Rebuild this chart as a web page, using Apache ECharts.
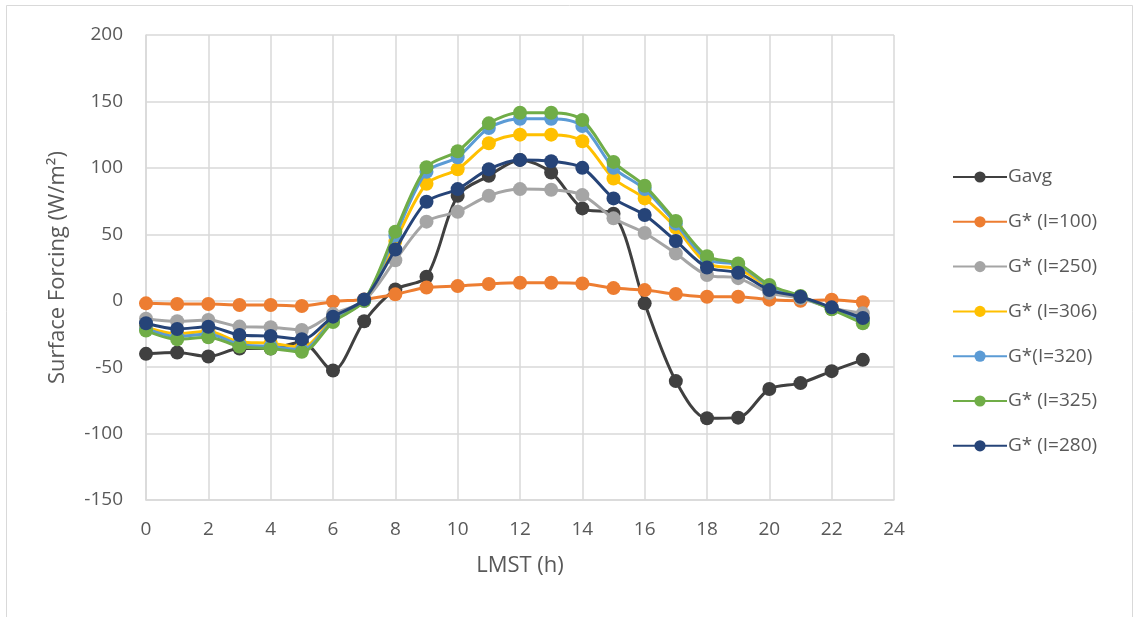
<!DOCTYPE html>
<html>
<head>
<meta charset="utf-8">
<script src="https://cdn.jsdelivr.net/npm/echarts@6/dist/echarts.min.js"></script>
<style>html,body{margin:0;padding:0;background:#fff;}#c{width:1134px;height:617px;}</style>
</head>
<body>
<div id="c"></div>
<script>
const hours = [0,1,2,3,4,5,6,7,8,9,10,11,12,13,14,15,16,17,18,19,20,21,22,23];
const seriesNames = ['Gavg','G* (I=100)','G* (I=250)','G* (I=306)','G*(I=320)','G* (I=325)','G* (I=280)'];
const colors = ['#404040','#ED7D31','#A5A5A5','#FFC000','#5B9BD5','#70AD47','#264478'];
const gavg  = [-40,-39,-42,-36,-36,-31,-52.5,-15.5,8.5,18,79,94,106,96.5,69.5,65.5,-2,-60.5,-88.5,-88,-66.5,-62,-53,-44.5];
const g100  = [-2,-2.5,-2.5,-3.2,-3.2,-4,-0.7,1,4.8,10,11,12.6,13.5,13.5,13,9.5,8,5,3,3,0.8,0,0.8,-1.2];
const g250  = [-13.5,-15.5,-14.5,-19.5,-20,-22,-10,0,30.5,59.5,67,79,84,83.5,79.5,62,51,35.5,19.3,17,6,1.8,-5.5,-9.5];
const g306  = [-20,-25,-23,-31,-32,-35,-14,0,45,88,99,118.5,125,125,120,92,77,55,28,24,10.5,3,-6,-14];
const g320  = [-21,-27,-25,-33,-34.5,-37,-15,0,49,97,108,130,137,137,131.5,100,84,58,31,27,11,3,-6,-15];
const g325  = [-22.5,-29,-27.5,-34.5,-36,-38.5,-16,0,52,100.5,112.5,133.5,141.5,141.5,136,104.5,86.5,60,33.5,28,11.8,3.5,-6.5,-17];
const g280  = [-17,-21.3,-19.6,-25.8,-26.6,-29,-12,1,38.5,74.5,84,99,106,105,100,77,64.5,45,25,21,8,3,-5,-13];
const yTicks = [-150,-100,-50,0,50,100,150,200];
const xTicks = [0,2,4,6,8,10,12,14,16,18,20,22,24];

const allData = [gavg,g100,g250,g306,g320,g325,g280];
const font = 'Open Sans, Lato, Liberation Sans, sans-serif';
const txt = '#595959';

const chart = echarts.init(document.getElementById('c'), null, {renderer:'canvas'});
chart.setOption({
  backgroundColor:'#fff',
  animation:false,
  graphic:[{type:'rect',shape:{x:6.5,y:5.5,width:1126,height:640},style:{fill:'none',stroke:'#d9d9d9',lineWidth:1},silent:true}],
  grid:{left:146,right:240,top:35,bottom:117,containLabel:false},
  xAxis:{type:'value',min:xTicks[0],max:xTicks[xTicks.length-1],interval:2,
    name:'LMST (h)',nameLocation:'middle',nameGap:55,
    nameTextStyle:{color:txt,fontSize:22,fontFamily:font},
    axisLine:{show:true,onZero:false,lineStyle:{color:'#d9d9d9',width:1.5}},
    axisTick:{show:false},
    axisLabel:{color:txt,fontSize:19,fontFamily:font,margin:20},
    splitLine:{show:true,lineStyle:{color:'#d9d9d9',width:1.5}}},
  yAxis:{type:'value',min:yTicks[0],max:yTicks[yTicks.length-1],interval:50,
    name:'Surface Forcing (W/m²)',nameLocation:'middle',nameGap:77,nameRotate:90,
    nameTextStyle:{color:txt,fontSize:22,fontFamily:font},
    axisLine:{show:true,lineStyle:{color:'#d9d9d9',width:1.5}},
    axisTick:{show:false},
    axisLabel:{color:txt,fontSize:19,fontFamily:font,margin:23},
    splitLine:{show:true,lineStyle:{color:'#d9d9d9',width:1.5}}},
  legend:{orient:'vertical',left:947,top:162,itemWidth:54,itemHeight:14,itemGap:24.8,
    textStyle:{color:txt,fontSize:19,fontFamily:font,lineHeight:20,padding:[0,0,0,-4]},
    data:seriesNames},
  series:seriesNames.map((n,i)=>({
    name:n,type:'line',
    data:hours.map((h,j)=>[h,allData[i][j]]),
    smooth:0.3,
    symbol:'circle',symbolSize:14,
    lineStyle:{color:colors[i],width:3},
    itemStyle:{color:colors[i]},
    z:2+i
  }))
});
</script>
</body>
</html>
